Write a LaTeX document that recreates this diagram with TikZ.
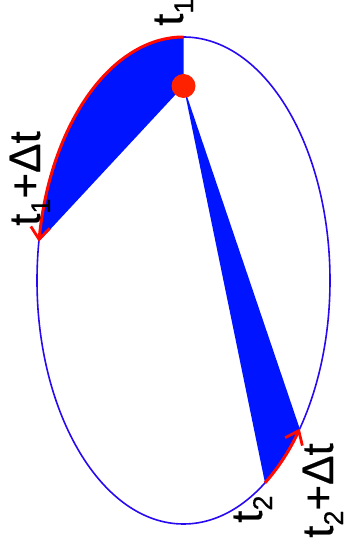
\documentclass[tikz,border=0pt]{standalone}
\usepackage{fontspec}
\setmainfont{Liberation Sans}
\usetikzlibrary{arrows.meta,calc}
\definecolor{orbitblue}{RGB}{40,10,240}
\definecolor{areablue}{RGB}{0,20,255}
\definecolor{arcred}{RGB}{255,10,0}
\definecolor{dotred}{RGB}{255,34,0}
\newcommand\lsub[1]{\raisebox{-10pt}{\fontsize{27}{29}\selectfont\addfontfeature{FakeBold=0.5}#1}}
\begin{document}
\begin{tikzpicture}[x=1pt,y=1pt,
  orbit/.style={draw=orbitblue,line width=1.6pt},
  area/.style={fill=areablue},
  sweep/.style={draw=arcred,line width=3pt,
    -{Straight Barb[length=12pt,width=19pt,line width=2.8pt]}},
  lbl/.style={rotate=90,anchor=base west,inner sep=0pt,
    font=\fontsize{44}{48}\selectfont\addfontfeature{FakeBold=0.5}}]
\useasboundingbox (0,0) rectangle (344,552);
\clip (0,0) rectangle (344,552);
\coordinate (C) at (183.5,271.5);
\coordinate (F) at (183.5,466);
\coordinate (T1) at ($(C)+(90:146.5 and 243.5)$);
\coordinate (T1d) at ($(C)+(170.8:146.5 and 243.5)$);
\coordinate (T2) at ($(C)+(-56.2:146.5 and 243.5)$);
\coordinate (T2d) at ($(C)+(-37.5:146.5 and 243.5)$);
% swept areas
\fill[area] (F) -- (T1) arc[start angle=90,end angle=170.8,x radius=146.5,y radius=243.5] -- cycle;
\fill[area] (F) -- (T2) arc[start angle=-56.2,end angle=-37.5,x radius=146.5,y radius=243.5] -- cycle;
% orbit
\draw[orbit] (C) ellipse[x radius=146.5,y radius=243.5];
% arcs travelled
\draw[sweep] (T1) arc[start angle=90,end angle=170.8,x radius=146.5,y radius=243.5];
\draw[sweep] (T2) arc[start angle=-56.2,end angle=-37.5,x radius=146.5,y radius=243.5];
% sun
\fill[dotred] (F) circle[radius=12];
% labels
\node[lbl] (l1) at (183,526) {t\lsub{1}};
\node[lbl] (l1d) at (40,326) {t\lsub{1}+Δt};
\node[lbl] (l2) at (262,29) {t\lsub{2}};
\node[lbl] (l2d) at (333,14) {t\lsub{2}+Δt};
\end{tikzpicture}
\end{document}
